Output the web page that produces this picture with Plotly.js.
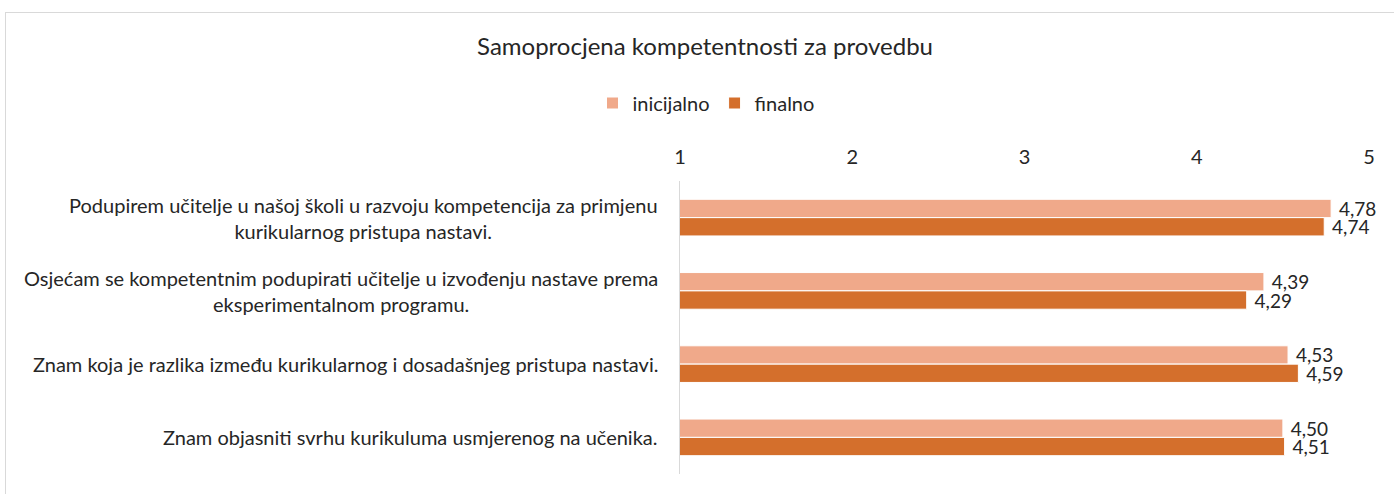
<!DOCTYPE html>
<html>
<head>
<meta charset="utf-8">
<script src="https://cdn.plot.ly/plotly-3.0.1.min.js"></script>
<style>
html,body{margin:0;padding:0;overflow:hidden;background:#fff;}
#wrap{position:relative;width:1394px;height:494px;}
#frame{position:absolute;left:5px;top:12px;width:1400px;height:500px;border:1px solid #d9d9d9;pointer-events:none;}
</style>
</head>
<body>
<div id="wrap"><div id="chart" style="width:1394px;height:494px;"></div><div id="frame"></div></div>
<script>
const categories = [
  "Podupirem učitelje u našoj školi u razvoju kompetencija za primjenu<br>kurikularnog pristupa nastavi.",
  "Osjećam se kompetentnim podupirati učitelje u izvođenju nastave prema<br>eksperimentalnom programu.",
  "Znam koja je razlika između kurikularnog i dosadašnjeg pristupa nastavi.",
  "Znam objasniti svrhu kurikuluma usmjerenog na učenika."
];
const inicijalno = [4.78, 4.39, 4.53, 4.50];
const finalno = [4.74, 4.29, 4.59, 4.51];
const seriesNames = ["inicijalno", "finalno"];
const tickValues = [1, 2, 3, 4, 5];

const FONT = "Lato, 'Open Sans', sans-serif";
const TXT = "#262626";
const FS = 20;

const traces = [
  {type:'bar', orientation:'h', name:seriesNames[0], y:categories, x:inicijalno,
   marker:{color:'#F0A98A', line:{color:'#ffffff', width:1}},
   texttemplate:'\u00a0%{x:.2f}', textposition:'outside', cliponaxis:false, constraintext:'none',
   textfont:{family:FONT, size:19, color:TXT}, hoverinfo:'x+name'},
  {type:'bar', orientation:'h', name:seriesNames[1], y:categories, x:finalno,
   marker:{color:'#D46F2C', line:{color:'#ffffff', width:1}},
   texttemplate:'\u00a0%{x:.2f}', textposition:'outside', cliponaxis:false, constraintext:'none',
   textfont:{family:FONT, size:19, color:TXT}, hoverinfo:'x+name'}
];

const annotations = categories.map(c => ({
  xref:'paper', yref:'y', x:0, y:c, xanchor:'right', yanchor:'middle',
  xshift:-20, text:c, align:'center', showarrow:false,
  font:{family:FONT, size:FS, color:TXT}
}));

const layout = {
  width:1394, height:494,
  margin:{l:680, r:25, t:181, b:20, pad:0},
  paper_bgcolor:'#ffffff', plot_bgcolor:'#ffffff',
  separators:',.',
  font:{family:FONT, size:FS, color:TXT},
  title:{text:'Samoprocjena kompetentnosti za provedbu', xref:'container', x:705/1394, xanchor:'center',
         yref:'container', y:1-47/494, yanchor:'middle', font:{family:FONT, size:24, color:TXT}},
  barmode:'group', bargap:0.5, bargroupgap:0,
  showlegend:true,
  legend:{orientation:'h', xref:'container', x:706/1394, xanchor:'center', yref:'container', y:1-103/494, yanchor:'middle',
          font:{family:FONT, size:FS, color:TXT}, itemwidth:30, traceorder:'normal'},
  xaxis:{side:'top', range:[1,5], tickvals:tickValues, ticktext:tickValues.map(String), showgrid:false, zeroline:false,
         showline:false, ticks:'', ticklabelstandoff:12, tickfont:{family:FONT, size:FS, color:TXT}, fixedrange:true},
  yaxis:{autorange:'reversed', showticklabels:false, ticks:'', showgrid:false, zeroline:false,
         showline:true, linecolor:'#d9d9d9', linewidth:1, fixedrange:true},
  annotations:annotations
};

Plotly.newPlot('chart', traces, layout, {displayModeBar:false, staticPlot:true});
</script>
</body>
</html>
